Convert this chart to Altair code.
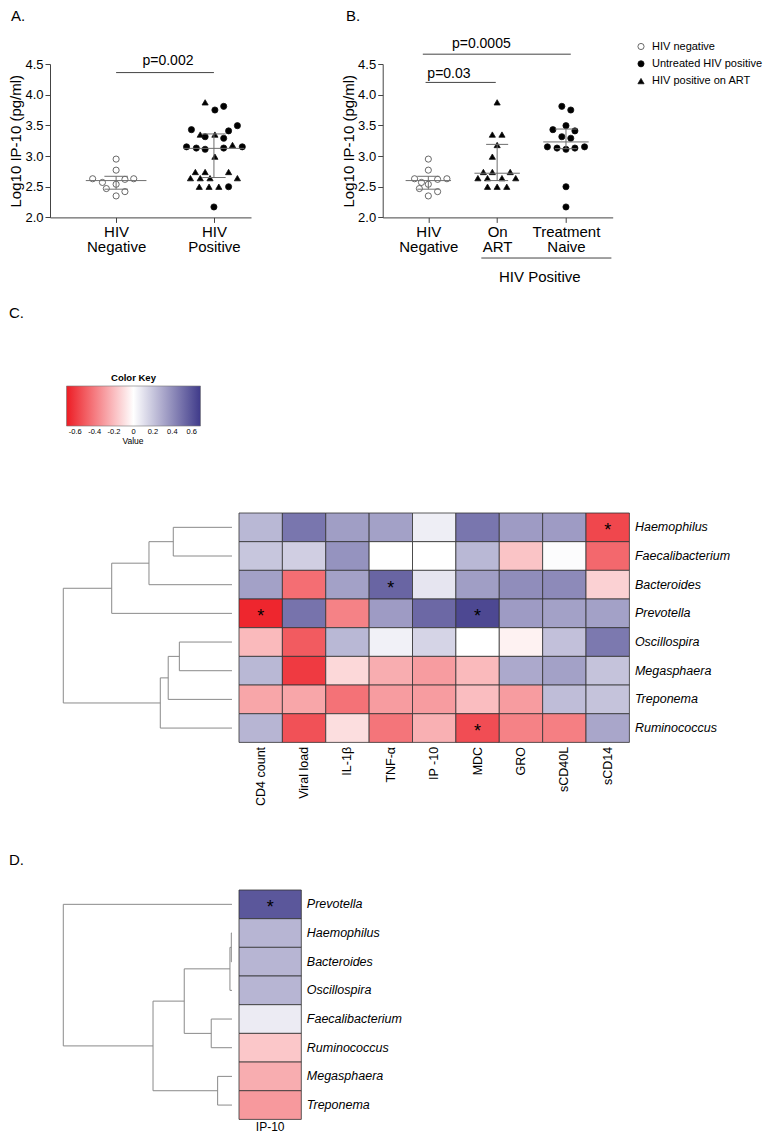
import altair as alt
import pandas as pd

FONT = "Liberation Sans"

# ------------------------------------------------------------------
# Panels A and B : Log10 IP-10 (pg/ml)
# ------------------------------------------------------------------
group_names = ["HIV negative", "Untreated HIV positive", "HIV positive on ART"]

neg_vals = [2.95, 2.77, 2.63, 2.57, 2.54, 2.62, 2.63, 2.47, 2.42, 2.35]
neg_jit_A = [0.0, 0.0, -0.24, -0.14, 0.0, 0.09, 0.18, -0.10, 0.09, 0.0]
neg_jit_B = [0.0, 0.0, -0.20, -0.10, 0.0, 0.135, 0.27, -0.13, 0.135, 0.0]

naive_vals = [3.81, 3.75, 3.495, 3.43, 3.41, 3.315, 3.29, 3.15, 3.13, 3.11, 3.13, 3.15, 2.50, 2.17]
naive_jit_A = [0.10, 0.01, 0.24, -0.23, 0.15, -0.09, 0.10, -0.28, -0.18, -0.09, 0.10, 0.29, 0.15, 0.0]
naive_jit_B = [-0.06, 0.07, 0.0, -0.19, 0.13, -0.06, 0.07, -0.27, -0.13, 0.0, 0.13, 0.27, 0.0, 0.0]

art_vals = [3.875, 3.35, 3.35, 3.18, 2.99, 2.74, 2.74, 2.74, 2.64, 2.64, 2.64, 2.64, 2.50, 2.50, 2.50]
art_jit_A = [-0.09, -0.14, 0.01, 0.19, 0.01, -0.19, -0.09, 0.15, -0.24, -0.14, -0.04, 0.24, -0.05, 0.05, -0.15]
art_jit_B = [0.0, -0.07, 0.07, 0.0, -0.07, -0.20, -0.07, 0.19, -0.28, -0.14, 0.07, 0.27, -0.14, 0.0, 0.14]

cats_A = ["HIV Negative", "HIV Positive"]
cats_B = ["HIV Negative", "On ART", "Treatment Naive"]

med_A = [2.60, 3.125]
q1_A = [2.46, 2.65]
q3_A = [2.67, 3.36]
med_B = [2.60, 2.72, 3.23]
q1_B = [2.46, 2.60, 3.12]
q3_B = [2.67, 3.19, 3.44]

pA_labels = ["p=0.002"]
pA_x1 = [1.0]
pA_x2 = [2.0]
pA_y = [4.36]
pA_tx = [1.53]
pA_ty = [4.43]

pB_labels = ["p=0.03", "p=0.0005"]
pB_x1 = [0.96, 0.92]
pB_x2 = [1.98, 3.07]
pB_y = [4.20, 4.66]
pB_tx = [1.30, 1.77]
pB_ty = [4.22, 4.72]

# ------------------------------------------------------------------
# Panel C : correlation heatmap
# ------------------------------------------------------------------
rows_C = ["Haemophilus", "Faecalibacterium", "Bacteroides", "Prevotella",
          "Oscillospira", "Megasphaera", "Treponema", "Ruminococcus"]
cols_C = ["CD4 count", "Viral load", "IL-1β", "TNF-α", "IP -10", "MDC", "GRO", "sCD40L", "sCD14"]
vals_C = [
    [0.25, 0.48, 0.34, 0.33, 0.06, 0.48, 0.35, 0.35, -0.56],
    [0.20, 0.17, 0.38, 0.00, 0.00, 0.25, -0.18, 0.01, -0.46],
    [0.33, -0.44, 0.33, 0.54, 0.09, 0.34, 0.40, 0.41, -0.14],
    [-0.66, 0.49, -0.38, 0.35, 0.53, 0.64, 0.35, 0.33, 0.33],
    [-0.21, -0.50, 0.25, 0.05, 0.15, 0.00, -0.04, 0.22, 0.47],
    [0.25, -0.60, -0.12, -0.25, -0.30, -0.21, 0.30, 0.33, 0.21],
    [-0.27, -0.27, -0.43, -0.30, -0.30, -0.20, -0.30, 0.23, 0.21],
    [0.26, -0.53, -0.10, -0.42, -0.24, -0.54, -0.38, -0.39, 0.31],
]
stars_C_row = ["Haemophilus", "Bacteroides", "Prevotella", "Prevotella", "Ruminococcus"]
stars_C_col = ["sCD14", "TNF-α", "CD4 count", "MDC", "MDC"]
# dendrogram merges (child, child, height), leaves indexed by row order
merges_C = [(0, 1, 0.348), (8, 2, 0.492), (9, 3, 0.713), (4, 5, 0.312),
            (11, 6, 0.378), (12, 7, 0.425), (10, 13, 1.0)]

# ------------------------------------------------------------------
# Panel D : IP-10 only
# ------------------------------------------------------------------
rows_D = ["Prevotella", "Haemophilus", "Bacteroides", "Oscillospira",
          "Faecalibacterium", "Ruminococcus", "Megasphaera", "Treponema"]
cols_D = ["IP-10"]
vals_D = [0.59, 0.26, 0.26, 0.26, 0.07, -0.17, -0.25, -0.31]
stars_D_row = ["Prevotella"]
stars_D_col = ["IP-10"]
merges_D = [(1, 2, 0.004), (8, 3, 0.012), (4, 5, 0.123), (9, 10, 0.283),
            (6, 7, 0.085), (11, 12, 0.468), (0, 13, 1.0)]

key_values = [-0.6, -0.4, -0.2, 0, 0.2, 0.4, 0.6]

# ------------------------------------------------------------------
LEG = alt.Legend(orient="none", legendX=585.5, legendY=-23, title=None, labelFontSize=11,
                 symbolSize=38, symbolStrokeWidth=0.8,
                 rowPadding=5.3, labelOffset=5.5, padding=0)


def points_frame(sets):
    rows = []
    for name, vals, jit, pos in sets:
        for v, j in zip(vals, jit):
            rows.append({"group": name, "x": pos + j, "v": v})
    return pd.DataFrame(rows)


def stats_frame(med, q1, q3, mw, iw):
    rows = []
    for i, (m, a, b) in enumerate(zip(med, q1, q3)):
        c = i + 1
        rows.append({"x": c - mw, "x2": c + mw, "y": m, "y2": m})
        rows.append({"x": c - iw, "x2": c + iw, "y": a, "y2": a})
        rows.append({"x": c - iw, "x2": c + iw, "y": b, "y2": b})
        rows.append({"x": c, "x2": c, "y": a, "y2": b})
    return pd.DataFrame(rows)


def dotplot(pts, cats, stats, xdom, width, br, letter, extras):
    xs = alt.Scale(domain=xdom, nice=False, zero=False)
    ys = alt.Scale(domain=[2.0, 4.5], nice=False, zero=False)
    names = "[" + ",".join("'%s'" % c for c in cats) + "]"
    xaxis = alt.Axis(values=list(range(1, len(cats) + 1)),
                     labelExpr="split(%s[datum.value - 1], ' ')" % names,
                     title=None, labelFontSize=15, labelLineHeight=15, labelPadding=2,
                     tickSize=5, labelFlush=False, labelOverlap=False, grid=False)
    yaxis = alt.Axis(values=[2.0, 2.5, 3.0, 3.5, 4.0, 4.5], format=".1f",
                     title="Log10 IP-10 (pg/ml)", titleFontSize=15, titleFontWeight="normal",
                     labelFontSize=13, tickSize=5, labelPadding=2, titlePadding=1, grid=False)

    def X(f):
        return alt.X(f, scale=xs, axis=xaxis, title=None)

    def Y(f):
        return alt.Y(f, scale=ys, axis=yaxis, title="Log10 IP-10 (pg/ml)")

    layers = []
    layers.append(alt.Chart(pts).mark_point(filled=True, strokeWidth=0.8,
                                            size=38, opacity=1).encode(
        x=X("x:Q"),
        y=Y("v:Q"),
        shape=alt.Shape("group:N", scale=alt.Scale(domain=group_names,
                                                   range=["circle", "circle", "triangle-up"]),
                        legend=LEG),
        fill=alt.Fill("group:N", scale=alt.Scale(domain=group_names,
                                                 range=["white", "black", "black"]),
                      legend=LEG),
        stroke=alt.Stroke("group:N", scale=alt.Scale(domain=group_names,
                                                     range=["#444", "#111", "#111"]),
                          legend=LEG),
    ))
    layers.append(alt.Chart(stats).mark_rule(color="#6e6e6e", strokeWidth=1).encode(
        x=X("x:Q"), x2="x2:Q", y=Y("y:Q"), y2="y2:Q"))
    bdf = pd.DataFrame({"x": br[0], "x2": br[1], "y": br[2], "tx": br[3], "ty": br[4], "t": br[5]})
    layers.append(alt.Chart(bdf).mark_rule(color="#444", strokeWidth=1).encode(
        x=X("x:Q"), x2="x2:Q", y=Y("y:Q")))
    layers.append(alt.Chart(bdf).mark_text(fontSize=14, baseline="bottom", color="black").encode(
        x=X("tx:Q"), y=Y("ty:Q"), text="t:N"))
    ldf = pd.DataFrame({"x": [letter[1]], "y": [letter[2]], "t": [letter[0]]})
    layers.append(alt.Chart(ldf).mark_text(fontSize=15, align="left", baseline="top",
                                           color="black").encode(
        x=X("x:Q"), y=Y("y:Q"), text="t:N"))
    for kind, d in extras:
        if kind == "rule":
            layers.append(alt.Chart(pd.DataFrame(d)).mark_rule(color="#444", strokeWidth=1).encode(
                x=X("x:Q"), x2="x2:Q", y=Y("y:Q")))
        else:
            layers.append(alt.Chart(pd.DataFrame(d)).mark_text(fontSize=15, baseline="middle",
                                                              color="black").encode(
                x=X("x:Q"), y=Y("y:Q"), text="t:N"))
    return alt.layer(*layers).properties(width=width, height=153.4)


ptsA = points_frame([(group_names[0], neg_vals, neg_jit_A, 1),
                     (group_names[1], naive_vals, naive_jit_A, 2),
                     (group_names[2], art_vals, art_jit_A, 2)])
ptsB = points_frame([(group_names[0], neg_vals, neg_jit_B, 1),
                     (group_names[1], naive_vals, naive_jit_B, 3),
                     (group_names[2], art_vals, art_jit_B, 2)])

chartA = dotplot(ptsA, cats_A, stats_frame(med_A, q1_A, q3_A, 0.31, 0.12),
                 [0.324, 2.379], 201,
                 (pA_x1, pA_x2, pA_y, pA_tx, pA_ty, pA_labels),
                 ("A.", -0.075, 5.40), [])
chartB = dotplot(ptsB, cats_B, stats_frame(med_B, q1_B, q3_B, 0.33, 0.16),
                 [0.337, 3.679], 230,
                 (pB_x1, pB_x2, pB_y, pB_tx, pB_ty, pB_labels),
                 ("B.", -0.196, 5.40),
                 [("rule", {"x": [1.77], "x2": [3.66], "y": [1.338]}),
                  ("text", {"x": [2.62], "y": [1.022], "t": ["HIV Positive"]})])

row1 = alt.hconcat(chartA, chartB, spacing=131.7, bounds="flush")

# ------------------------------------------------------------------
CSCALE = alt.Scale(domain=[-0.69, 0, 0.69], range=["#ED1C24", "#FFFFFF", "#3F3A8A"],
                   interpolate="rgb")
CLEG = alt.Legend(orient="none", legendX=16.5, legendY=308.5, direction="horizontal",
                  gradientLength=134, gradientThickness=40, title="Color Key",
                  titleOrient="top", titleAnchor="middle", titleFontSize=9.5,
                  titleFontWeight="bold", titlePadding=4, labelFontSize=7.5, values=key_values,
                  labelExpr="'' + datum.value", gradientStrokeColor="#777",
                  gradientStrokeWidth=0.6, padding=0, labelOffset=2, labelColor="black")


def dendro_segments(merges, n):
    pos = {i: i + 0.5 for i in range(n)}
    hgt = {i: 0.0 for i in range(n)}
    segs = []
    for k, (a, b, h) in enumerate(merges):
        for c in (a, b):
            segs.append({"x": hgt[c], "x2": h, "y": pos[c], "y2": pos[c]})
        segs.append({"x": h, "x2": h, "y": pos[a], "y2": pos[b]})
        pos[n + k] = (pos[a] + pos[b]) / 2
        hgt[n + k] = h
    return pd.DataFrame(segs)


def dendro_chart(merges, n, texts):
    xs = alt.Scale(domain=[-0.0375, 1.0788], reverse=True, nice=False, zero=False)
    ys = alt.Scale(domain=[0, n], reverse=True, nice=False, zero=False)
    layers = [alt.Chart(dendro_segments(merges, n)).mark_rule(color="#8a8a8a", strokeWidth=1).encode(
        x=alt.X("x:Q", scale=xs, axis=None), x2="x2:Q",
        y=alt.Y("y:Q", scale=ys, axis=None), y2="y2:Q")]
    for label, x, y, size, weight, align, baseline in texts:
        layers.append(alt.Chart(pd.DataFrame({"x": [x], "y": [y], "t": [label]})).mark_text(
            fontSize=size, fontWeight=weight, align=align, baseline=baseline, color="black").encode(
            x=alt.X("x:Q", scale=xs, axis=None), y=alt.Y("y:Q", scale=ys, axis=None), text="t:N"))
    return alt.layer(*layers).properties(width=188.3, height=229.4)


def heat_chart(rows, cols, matrix, srow, scol, width, xaxis):
    recs = []
    for r, line in zip(rows, matrix):
        for c, v in zip(cols, line):
            recs.append({"row": r, "col": c, "v": v})
    df = pd.DataFrame(recs)
    yaxis = alt.Axis(orient="right", title=None, ticks=False, domain=False,
                     labelFontSize=12.5, labelFontStyle="italic", labelPadding=5)
    xenc = alt.X("col:N", sort=cols, scale=alt.Scale(paddingInner=0, paddingOuter=0),
                 axis=xaxis, title=None)
    yenc = alt.Y("row:N", sort=rows, scale=alt.Scale(paddingInner=0, paddingOuter=0),
                 axis=yaxis, title=None)
    rect = alt.Chart(df).mark_rect(stroke="#333", strokeWidth=0.8).encode(
        x=xenc, y=yenc, color=alt.Color("v:Q", scale=CSCALE, legend=CLEG))
    sdf = pd.DataFrame({"row": srow, "col": scol})
    stars = alt.Chart(sdf).mark_text(text="*", fontSize=18, dy=4, color="black").encode(
        x=xenc, y=yenc)
    return alt.layer(rect, stars).properties(width=width, height=229.4)


dendroC = dendro_chart(merges_C, 8, [("C.", 1.322, -7.223, 15, "normal", "left", "top"),
                                     ("Value", 0.587, -2.50, 8.5, "normal", "center", "middle")])
heatC = heat_chart(rows_C, cols_C, vals_C, stars_C_row, stars_C_col, 390.4,
                   alt.Axis(orient="bottom", labelAngle=270, title=None, ticks=False, domain=False,
                            labelFontSize=12.5, labelPadding=4))
rowC = alt.hconcat(dendroC, heatC, spacing=0, bounds="flush")

dendroD = dendro_chart(merges_D, 8, [("D.", 1.322, -1.30, 15, "normal", "left", "top")])
heatD = heat_chart(rows_D, cols_D, [[v] for v in vals_D], stars_D_row, stars_D_col, 62.3,
                   alt.Axis(orient="bottom", labelAngle=0, title=None, ticks=False, domain=False,
                            labelFontSize=12, labelPadding=2))
rowD = alt.hconcat(dendroD, heatD, spacing=0, bounds="flush")

chart = alt.vconcat(row1, alt.vconcat(rowC, rowD, spacing=46), spacing=19).properties(
    padding=0
).configure(font=FONT).configure_view(stroke=None).configure_axis(
    domainColor="#444", tickColor="#444", labelColor="black", titleColor="black", grid=False
).configure_text(font=FONT)

chart.save("out.html", embed_options={"renderer": "svg", "actions": False})
